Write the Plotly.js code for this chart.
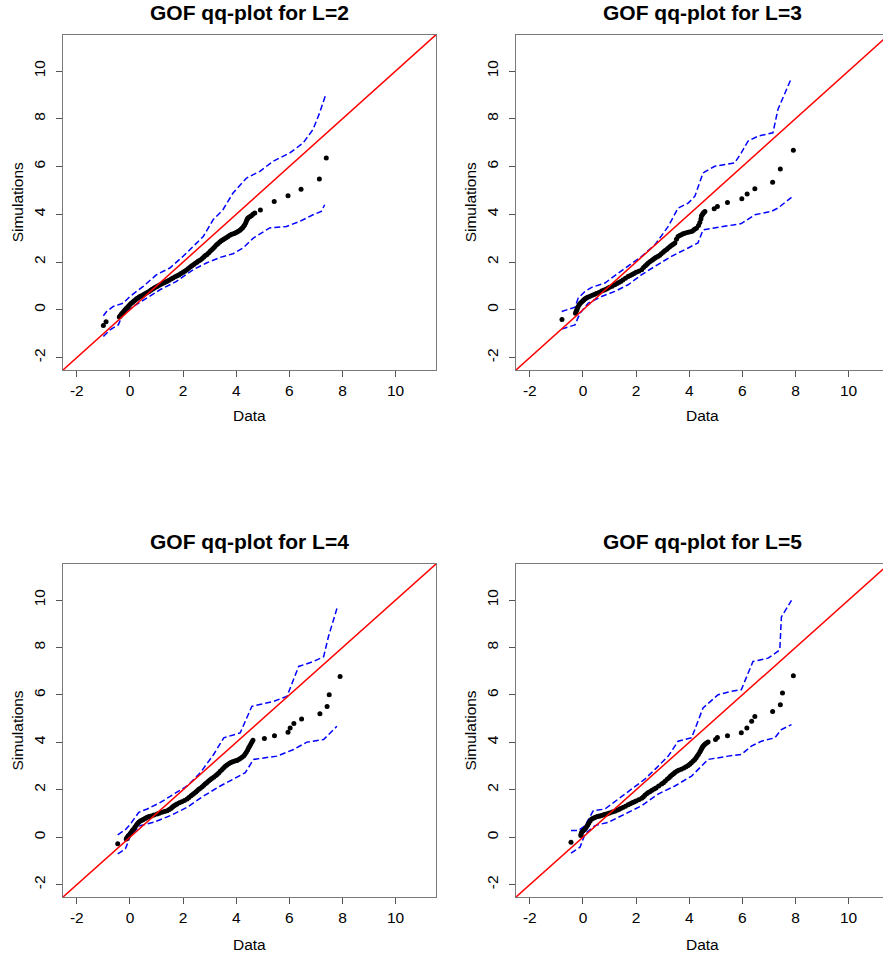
<!DOCTYPE html>
<html>
<head>
<meta charset="utf-8">
<script src="https://cdn.plot.ly/plotly-3.0.1.min.js"></script>
<style>
html, body { margin: 0; padding: 0; overflow: hidden; background: #fff; }
#chart { width: 892px; height: 958px; }
</style>
</head>
<body>
<div id="chart"></div>
<script>
// ---------- data ----------
const panelTitles = ["GOF qq-plot for L=2", "GOF qq-plot for L=3", "GOF qq-plot for L=4", "GOF qq-plot for L=5"];
const xAxisLabel = "Data";
const yAxisLabel = "Simulations";
const tickVals = [-2, 0, 2, 4, 6, 8, 10];
const tickText = ["-2", "0", "2", "4", "6", "8", "10"];
const refLine = [-3, 12]; // y = x reference line

// L = 2
const l2DataX = [-1.00,-0.90,-0.40,-0.37,-0.33,-0.30,-0.26,-0.22,-0.18,-0.14,
  -0.10,-0.05,0.00,0.05,0.10,0.15,0.20,0.25,0.30,0.35,
  0.40,0.46,0.52,0.58,0.65,0.72,0.78,0.84,0.90,0.96,
  1.02,1.08,1.15,1.22,1.28,1.34,1.40,1.47,1.55,1.62,
  1.70,1.78,1.85,1.92,2.00,2.06,2.13,2.20,2.27,2.33,
  2.40,2.46,2.52,2.58,2.65,2.72,2.78,2.84,2.90,2.96,
  3.02,3.08,3.14,3.20,3.26,3.32,3.38,3.44,3.50,3.56,
  3.62,3.69,3.76,3.83,3.90,3.96,4.02,4.08,4.14,4.19,
  4.24,4.28,4.32,4.36,4.39,4.42,4.45,4.51,4.57,4.63,
  4.70,4.91,5.43,5.95,6.44,7.13,7.39];
const l2SimY = [-0.66,-0.50,-0.30,-0.26,-0.20,-0.15,-0.10,-0.05,0.00,0.05,
  0.10,0.16,0.22,0.27,0.32,0.37,0.41,0.46,0.50,0.54,
  0.57,0.60,0.64,0.68,0.72,0.77,0.82,0.86,0.90,0.94,
  0.98,1.02,1.06,1.10,1.13,1.16,1.20,1.24,1.29,1.33,
  1.38,1.43,1.47,1.52,1.57,1.62,1.67,1.73,1.79,1.85,
  1.90,1.95,1.99,2.04,2.09,2.15,2.21,2.27,2.32,2.38,
  2.45,2.51,2.58,2.65,2.72,2.78,2.84,2.89,2.93,2.98,
  3.02,3.07,3.12,3.16,3.19,3.22,3.25,3.29,3.33,3.38,
  3.44,3.50,3.56,3.65,3.74,3.80,3.85,3.90,3.94,4.00,
  4.05,4.18,4.54,4.78,5.05,5.48,6.36];
const l2UpperX = [-1.00, -0.88, -0.63, -0.25, 0.00, 0.50, 1.00, 1.50, 2.00, 2.38, 2.76, 3.13, 3.50, 3.88, 4.39, 4.89, 5.39, 6.02, 6.52, 6.89, 7.14, 7.37];
const l2UpperY = [-0.25, -0.07, 0.14, 0.28, 0.56, 0.98, 1.47, 1.75, 2.24, 2.65, 3.07, 3.77, 4.19, 4.89, 5.52, 5.80, 6.22, 6.57, 6.99, 7.55, 8.25, 9.01];
const l2LowerX = [-1.00, -0.75, -0.44, -0.25, 0.13, 0.63, 1.13, 1.75, 2.38, 2.88, 3.38, 3.88, 4.26, 4.64, 5.26, 5.89, 6.39, 6.89, 7.20, 7.33];
const l2LowerY = [-1.12, -0.84, -0.63, -0.14, 0.14, 0.49, 0.84, 1.19, 1.68, 1.96, 2.19, 2.35, 2.59, 3.00, 3.43, 3.49, 3.70, 3.98, 4.12, 4.40];

// L = 3
const l3DataX = [-0.79,-0.28,-0.26,-0.24,-0.21,-0.18,-0.14,-0.10,-0.05,0.00,
  0.04,0.08,0.13,0.18,0.25,0.33,0.42,0.50,0.60,0.70,
  0.78,0.85,0.92,1.00,1.10,1.20,1.28,1.35,1.42,1.50,
  1.60,1.70,1.78,1.85,1.92,2.00,2.10,2.21,2.28,2.35,
  2.41,2.46,2.53,2.60,2.65,2.70,2.76,2.83,2.89,2.95,
  3.02,3.08,3.15,3.21,3.28,3.34,3.40,3.46,3.52,3.58,
  3.64,3.70,3.77,3.83,3.92,4.00,4.09,4.15,4.20,4.27,
  4.35,4.40,4.44,4.46,4.49,4.52,4.55,4.59,
  4.94,5.06,5.44,5.98,6.18,6.47,7.14,7.43,7.92];
const l3SimY = [-0.41,-0.14,-0.08,-0.02,0.06,0.14,0.21,0.27,0.33,0.38,
  0.42,0.46,0.50,0.53,0.56,0.60,0.64,0.68,0.73,0.79,
  0.82,0.85,0.89,0.94,0.99,1.05,1.10,1.14,1.19,1.25,
  1.32,1.40,1.44,1.48,1.52,1.57,1.62,1.68,1.77,1.85,
  1.91,1.96,2.02,2.08,2.12,2.16,2.20,2.24,2.29,2.35,
  2.41,2.47,2.53,2.59,2.65,2.70,2.75,2.80,2.95,3.07,
  3.11,3.14,3.18,3.21,3.24,3.26,3.28,3.32,3.37,3.42,
  3.53,3.66,3.80,3.93,3.98,4.03,4.07,4.12,
  4.23,4.33,4.49,4.65,4.85,5.07,5.34,5.90,6.68];
const l3UpperX = [-0.80, -0.30, -0.18, 0.08, 0.33, 0.83, 1.33, 1.83, 2.21, 2.71, 3.21, 3.58, 3.96, 4.21, 4.52, 4.96, 5.71, 5.96, 6.21, 6.59, 7.15, 7.34, 7.85];
const l3UpperY = [-0.07, 0.11, 0.49, 0.77, 0.94, 1.12, 1.54, 1.96, 2.24, 2.73, 3.49, 4.26, 4.47, 4.75, 5.73, 6.01, 6.15, 6.57, 7.06, 7.27, 7.41, 8.39, 9.71];
const l3LowerX = [-0.80, -0.30, -0.11, 0.20, 0.70, 1.20, 1.70, 2.21, 2.71, 3.33, 3.96, 4.33, 4.52, 4.96, 5.96, 6.47, 7.09, 7.34, 7.85];
const l3LowerY = [-0.81, -0.63, -0.14, 0.28, 0.56, 0.77, 1.05, 1.47, 1.82, 2.24, 2.59, 2.80, 3.35, 3.42, 3.61, 3.98, 4.12, 4.26, 4.71];

// L = 4
const l4DataX = [-0.46,-0.14,-0.12,-0.10,-0.07,-0.05,0.00,0.04,0.09,0.14,
  0.19,0.24,0.28,0.33,0.39,0.45,0.50,0.55,0.60,0.65,
  0.72,0.80,0.90,1.02,1.10,1.20,1.30,1.40,1.48,1.55,
  1.60,1.65,1.71,1.77,1.86,1.95,2.05,2.15,2.22,2.30,
  2.36,2.42,2.48,2.53,2.59,2.65,2.72,2.78,2.84,2.90,
  2.96,3.02,3.08,3.15,3.22,3.28,3.34,3.40,3.47,3.53,
  3.59,3.65,3.72,3.78,3.84,3.90,3.97,4.03,4.09,4.15,
  4.22,4.28,4.33,4.38,4.43,4.47,4.51,4.55,4.59,4.63,
  5.06,5.44,5.95,6.03,6.17,6.46,7.15,7.42,7.50,7.91];
const l4SimY = [-0.27,-0.07,-0.04,0.00,0.04,0.07,0.14,0.20,0.28,0.35,
  0.43,0.50,0.57,0.63,0.68,0.72,0.75,0.78,0.81,0.84,
  0.87,0.90,0.94,0.98,1.01,1.05,1.09,1.12,1.17,1.22,
  1.27,1.32,1.36,1.40,1.45,1.50,1.55,1.61,1.68,1.75,
  1.80,1.85,1.91,1.96,2.02,2.07,2.13,2.19,2.25,2.31,
  2.37,2.42,2.48,2.53,2.59,2.65,2.71,2.78,2.86,2.93,
  2.99,3.05,3.10,3.14,3.17,3.19,3.22,3.24,3.28,3.32,
  3.37,3.42,3.50,3.58,3.68,3.77,3.85,3.93,4.01,4.09,
  4.16,4.28,4.43,4.61,4.79,4.99,5.21,5.51,6.01,6.78];
const l4UpperX = [-0.46, -0.17, 0.02, 0.33, 0.65, 1.15, 1.65, 2.15, 2.65, 3.15, 3.53, 4.15, 4.59, 5.41, 5.91, 6.35, 6.91, 7.29, 7.47, 7.79];
const l4UpperY = [0.10, 0.32, 0.56, 1.05, 1.19, 1.47, 1.82, 2.16, 2.72, 3.49, 4.19, 4.40, 5.52, 5.73, 5.94, 7.20, 7.41, 7.61, 8.45, 9.64];
const l4LowerX = [-0.46, -0.17, 0.02, 0.39, 0.89, 1.52, 2.15, 2.77, 3.40, 4.03, 4.34, 4.65, 5.53, 6.16, 6.66, 7.29, 7.79];
const l4LowerY = [-0.70, -0.49, 0.07, 0.49, 0.63, 0.91, 1.26, 1.74, 2.16, 2.52, 2.72, 3.28, 3.42, 3.70, 4.01, 4.12, 4.68];

// L = 5
const l5DataX = [-0.45,-0.08,-0.07,-0.05,0.00,0.05,0.10,0.14,0.18,0.22,
  0.27,0.33,0.39,0.45,0.52,0.58,0.64,0.70,0.78,0.85,
  0.92,1.00,1.10,1.20,1.28,1.35,1.42,1.50,1.60,1.70,
  1.78,1.85,1.92,2.00,2.10,2.21,2.27,2.33,2.40,2.46,
  2.53,2.60,2.68,2.75,2.85,2.96,3.03,3.10,3.18,3.25,
  3.30,3.36,3.41,3.46,3.53,3.60,3.70,3.80,3.88,3.96,
  4.02,4.08,4.15,4.21,4.26,4.30,4.35,4.40,4.43,4.46,
  4.49,4.52,4.56,4.60,4.65,4.71,
  4.99,5.06,5.44,5.96,6.17,6.35,6.47,7.14,7.43,7.51,7.92];
const l5SimY = [-0.21,0.07,0.14,0.21,0.26,0.32,0.38,0.45,0.52,0.60,
  0.68,0.77,0.80,0.83,0.86,0.88,0.90,0.92,0.95,0.97,
  0.99,1.02,1.06,1.10,1.14,1.17,1.21,1.25,1.31,1.37,
  1.41,1.45,1.49,1.53,1.58,1.64,1.70,1.77,1.83,1.89,
  1.93,1.98,2.03,2.08,2.16,2.24,2.30,2.37,2.45,2.52,
  2.58,2.63,2.68,2.73,2.78,2.82,2.87,2.92,2.97,3.02,
  3.08,3.14,3.21,3.28,3.35,3.42,3.50,3.59,3.66,3.72,
  3.78,3.84,3.89,3.93,3.97,4.02,
  4.12,4.21,4.28,4.40,4.61,4.89,5.09,5.30,5.59,6.08,6.81];
const l5UpperX = [-0.45, -0.18, 0.08, 0.39, 0.83, 1.33, 1.83, 2.33, 2.71, 3.21, 3.58, 4.09, 4.52, 5.09, 5.59, 5.96, 6.40, 6.97, 7.41, 7.47, 7.85];
const l5UpperY = [0.28, 0.28, 0.49, 1.12, 1.19, 1.61, 2.03, 2.45, 2.86, 3.42, 4.05, 4.19, 5.45, 6.01, 6.15, 6.22, 7.41, 7.55, 7.90, 9.29, 9.99];
const l5LowerX = [-0.45, -0.11, 0.08, 0.45, 0.95, 1.58, 2.21, 2.83, 3.46, 4.09, 4.46, 4.71, 5.46, 5.96, 6.34, 6.72, 7.22, 7.47, 7.85];
const l5LowerY = [-0.67, -0.42, 0.14, 0.49, 0.63, 0.98, 1.33, 1.82, 2.16, 2.58, 3.00, 3.28, 3.42, 3.49, 3.84, 4.05, 4.19, 4.54, 4.75];

// ---------- build ----------
const panels = [
  {x: l2DataX, y: l2SimY, ux: l2UpperX, uy: l2UpperY, lx: l2LowerX, ly: l2LowerY},
  {x: l3DataX, y: l3SimY, ux: l3UpperX, uy: l3UpperY, lx: l3LowerX, ly: l3LowerY},
  {x: l4DataX, y: l4SimY, ux: l4UpperX, uy: l4UpperY, lx: l4LowerX, ly: l4LowerY},
  {x: l5DataX, y: l5SimY, ux: l5UpperX, uy: l5UpperY, lx: l5LowerX, ly: l5LowerY}
];

const W = 892, H = 958;
// pixel boxes [left, right, top, bottom]
const boxes = [
  [63, 436, 34.7, 370],
  [516, 889, 34.7, 370],
  [63, 436, 564, 897],
  [516, 889, 564, 897]
];
const titleTop = [0, 0, 529, 529];
const xlabY = [415, 415, 944, 944];
const FONT = "Liberation Sans, Arial, sans-serif";

const traces = [];
const layout = {
  width: W, height: H,
  margin: {l: 0, r: 0, t: 0, b: 0},
  paper_bgcolor: "#fff", plot_bgcolor: "#fff",
  showlegend: false,
  font: {family: FONT, color: "#000"},
  annotations: []
};
const dashStyle = "6px,3px";

panels.forEach((p, i) => {
  const n = i + 1;
  const xa = "x" + (n === 1 ? "" : n), ya = "y" + (n === 1 ? "" : n);
  traces.push({x: p.ux, y: p.uy, xaxis: xa, yaxis: ya, mode: "lines", type: "scatter",
    line: {color: "#0000ff", width: 1.5, dash: dashStyle}, hoverinfo: "skip"});
  traces.push({x: p.lx, y: p.ly, xaxis: xa, yaxis: ya, mode: "lines", type: "scatter",
    line: {color: "#0000ff", width: 1.5, dash: dashStyle}, hoverinfo: "skip"});
  traces.push({x: p.x, y: p.y, xaxis: xa, yaxis: ya, mode: "markers", type: "scatter",
    marker: {color: "#000", size: 5}});
  traces.push({x: refLine, y: refLine, xaxis: xa, yaxis: ya, mode: "lines", type: "scatter",
    line: {color: "#ff0000", width: 1.5}, hoverinfo: "skip"});

  const b = boxes[i];
  const axCommon = {
    range: [-2.52, 11.52], tickvals: tickVals, ticktext: tickText,
    ticks: "outside", ticklen: 6, tickwidth: 1, tickcolor: "#555",
    showline: true, mirror: true, linecolor: "#7a7a7a", linewidth: 1.2,
    showgrid: false, zeroline: false,
    tickfont: {size: 15.5, color: "#000", family: FONT}
  };
  layout["xaxis" + (n === 1 ? "" : n)] = Object.assign({}, axCommon, {
    domain: [b[0] / W, b[1] / W], anchor: ya, ticklabelstandoff: 0
  });
  layout["yaxis" + (n === 1 ? "" : n)] = Object.assign({}, axCommon, {
    domain: [1 - b[3] / H, 1 - b[2] / H], anchor: xa, tickangle: -90, ticklabelstandoff: 5
  });

  const cx = (b[0] + b[1]) / 2 / W;
  layout.annotations.push({text: "<b>" + panelTitles[i] + "</b>", xref: "paper", yref: "paper",
    x: cx, y: 1 - titleTop[i] / H, xanchor: "center", yanchor: "top", showarrow: false, borderpad: 0,
    font: {size: 21, color: "#000", family: FONT}});
  layout.annotations.push({text: xAxisLabel, xref: "paper", yref: "paper",
    x: cx, y: 1 - xlabY[i] / H, xanchor: "center", yanchor: "middle", showarrow: false,
    font: {size: 15.5, color: "#000", family: FONT}});
  layout.annotations.push({text: yAxisLabel, xref: "paper", yref: "paper", textangle: -90,
    x: (b[0] - 46) / W, y: 1 - ((b[2] + b[3]) / 2) / H, xanchor: "center", yanchor: "middle", showarrow: false,
    font: {size: 15.5, color: "#000", family: FONT}});
});

Plotly.newPlot("chart", traces, layout, {staticPlot: true, displayModeBar: false});
</script>
</body>
</html>
